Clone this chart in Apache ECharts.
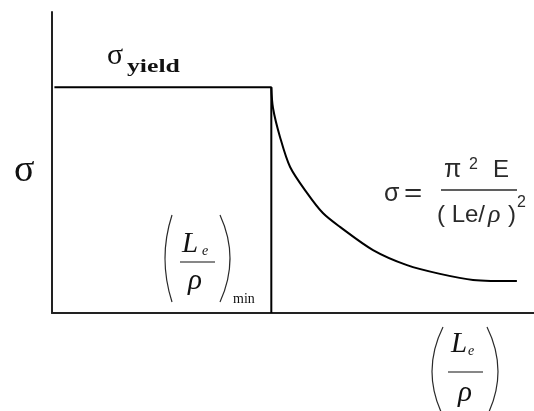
<!DOCTYPE html>
<html>
<head>
<meta charset="utf-8">
<script src="https://cdn.jsdelivr.net/npm/echarts@6.0.0/dist/echarts.min.js"></script>
<style>
  html, body { margin: 0; padding: 0; background: #fff; }
  #chart { width: 534px; height: 411px; }
</style>
</head>
<body>
<div id="chart"></div>
<script>
// Column buckling: stress vs. slenderness ratio (arbitrary units)
const yieldStress = 75;
const slenderMin = 91;
const plateauX = [1, 91];
const eulerX = [91, 91.7, 94.6, 98.8, 105.8, 112.4, 119.5, 133.2, 147.3, 161.0, 174.7, 192.9];
const eulerY = [75, 68.1, 58.5, 48.5, 39.9, 33.2, 28.6, 20.9, 15.9, 13.0, 11.0, 10.6];

const chart = echarts.init(document.getElementById('chart'), null, { renderer: 'canvas' });

const plateau = [
  [plateauX[0], yieldStress],
  [plateauX[1], yieldStress],
  [slenderMin, 0]
];
const euler = eulerX.map((x, i) => [x, eulerY[i]]);

const serif = '"Liberation Serif", "Times New Roman", serif';
const sans = '"Liberation Sans", Arial, sans-serif';
const ink = '#111';
const grey = '#2a2a2a';

function paren(x0, y0, y1, bulge) {
  return {
    type: 'bezierCurve',
    shape: { x1: x0, y1: y0, x2: x0, y2: y1, cpx1: x0 + bulge, cpy1: (y0 + y1) / 2 },
    style: { stroke: grey, lineWidth: 1.2, fill: null },
    silent: true
  };
}
// place text by its baseline (size in px)
function txt(x, baseline, text, size, font, fill, extra) {
  return Object.assign({
    type: 'text', x: x, y: baseline - 0.8 * size, silent: true,
    style: { text: text, font: font.replace('@', size + 'px'), fill: fill || ink, textAlign: 'left', textVerticalAlign: 'top' }
  }, extra || {});
}

const option = {
  animation: false,
  backgroundColor: '#fff',
  grid: { left: 52, right: 0, top: 12, bottom: 98, containLabel: false },
  xAxis: {
    type: 'value', min: 0, max: 200,
    axisLine: { show: true, onZero: false, lineStyle: { color: '#222', width: 2 } },
    axisTick: { show: false }, axisLabel: { show: false }, splitLine: { show: false }
  },
  yAxis: {
    type: 'value', min: 0, max: 100,
    axisLine: { show: true, onZero: false, lineStyle: { color: '#222', width: 2 } },
    axisTick: { show: false }, axisLabel: { show: false }, splitLine: { show: false }
  },
  series: [
    {
      type: 'line', data: plateau, symbol: 'none',
      lineStyle: { color: '#000', width: 2 }
    },
    {
      type: 'line', data: euler, symbol: 'none', smooth: 0.3,
      lineStyle: { color: '#000', width: 2 }
    }
  ],
  graphic: [
    // axis symbol
    txt(14, 182, 'σ', 38, '@ ' + serif),
    // yield stress label
    txt(107, 65, 'σ', 30, '@ ' + serif),
    txt(127, 73, 'yield', 18, 'bold @ ' + serif, ink, { scaleX: 1.43, originX: 0 }),
    // Euler formula
    txt(384, 202, 'σ', 25, '@ ' + sans, grey),
    txt(404, 202, '=', 25, '@ ' + sans, grey, { scaleX: 1.25, originX: 0 }),
    txt(444, 178, 'π', 25, '@ ' + sans, grey),
    txt(469, 169, '2', 16, '@ ' + sans, grey),
    txt(493, 178, 'E', 24, '@ ' + sans, grey),
    { type: 'line', shape: { x1: 441, y1: 190, x2: 517, y2: 190 }, style: { stroke: grey, lineWidth: 1.6 }, silent: true },
    txt(437, 223, '( Le/', 24, '@ ' + sans, grey),
    txt(488, 223, 'ρ', 26, 'italic @ ' + serif, grey),
    txt(508, 223, ')', 24, '@ ' + sans, grey),
    txt(517, 207, '2', 16, '@ ' + sans, grey),
    // (Le/rho)min label
    paren(172, 215, 302, -14),
    paren(220, 215, 302, 20),
    txt(182, 253, 'L', 29, 'italic @ ' + serif),
    txt(202, 256, 'e', 14, 'italic @ ' + serif),
    { type: 'line', shape: { x1: 180, y1: 262, x2: 215, y2: 262 }, style: { stroke: ink, lineWidth: 1.2 }, silent: true },
    txt(188, 290, 'ρ', 29, 'italic @ ' + serif),
    txt(233, 304, 'min', 14, '@ ' + serif),
    // (Le/rho) axis label
    paren(443, 327, 416, -22),
    paren(487, 327, 416, 22),
    txt(451, 353, 'L', 29, 'italic @ ' + serif),
    txt(468, 356, 'e', 14, 'italic @ ' + serif),
    { type: 'line', shape: { x1: 448, y1: 372, x2: 483, y2: 372 }, style: { stroke: ink, lineWidth: 1.2 }, silent: true },
    txt(458, 402, 'ρ', 29, 'italic @ ' + serif)
  ]
};

chart.setOption(option);
</script>
</body>
</html>
